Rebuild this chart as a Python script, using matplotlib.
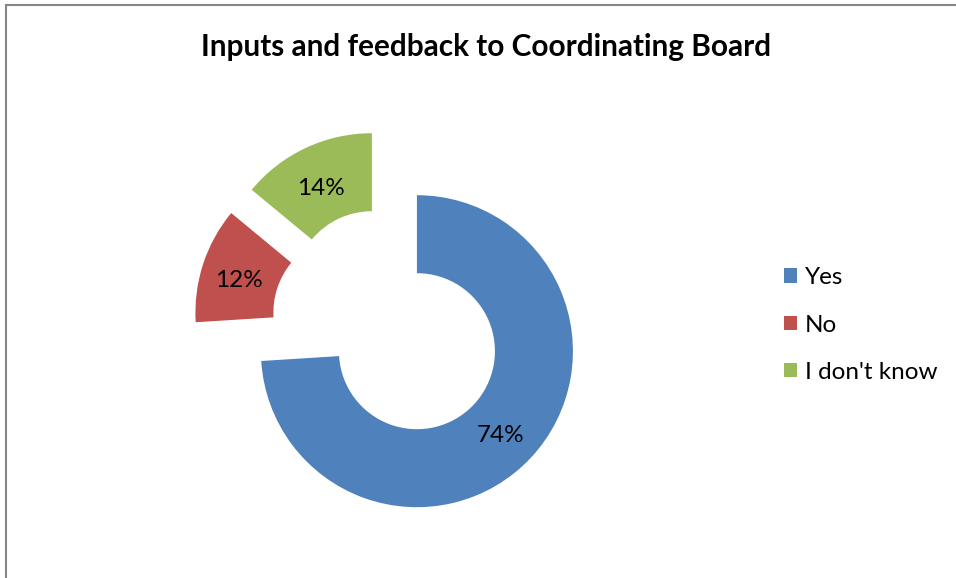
import matplotlib.pyplot as plt
from matplotlib.patches import Rectangle, Patch

labels = ['Yes', 'No', "I don't know"]
shares = [74, 12, 14]
colors = ['#4F81BD', '#C0504D', '#9BBB59']
title = 'Inputs and feedback to Coordinating Board'

plt.rcParams['font.family'] = ['Lato', 'DejaVu Sans']

W, H = 956, 578
fig = plt.figure(figsize=(W / 100, H / 100), dpi=100)

# chart border (only left and top edges are visible in the frame)
fig.patches.append(Rectangle((5.5 / W, -0.1), 1.2, 1 - 5.5 / H + 0.1,
                             transform=fig.transFigure, fill=False,
                             edgecolor='#868686', linewidth=1.5))

# square axes centred on the donut centre, radius 156 px
cx, cy, r, half = 388.5, 324.5, 156, 210
ax = fig.add_axes([(cx - half) / W, (H - cy - half) / H, 2 * half / W, 2 * half / H])
wedges, texts, autotexts = ax.pie(shares, colors=colors, startangle=90, counterclock=False,
                                  explode=[0.25] * 3, radius=1,
                                  wedgeprops=dict(width=0.5, linewidth=0),
                                  autopct='%d%%', pctdistance=0.75,
                                  textprops=dict(fontsize=17.5, color='black'))
# Excel sits the labels slightly lower in the ring
for t in autotexts:
    x, y = t.get_position()
    t.set_position((x - 0.01, y - 0.03))
lim = half / r
ax.set_xlim(-lim, lim)
ax.set_ylim(-lim, lim)
ax.set_aspect('equal')
ax.axis('off')

fig.text(486 / W, 1 - 47 / H, title, ha='center', va='center', fontsize=21.4, fontweight='bold')

handles = [Patch(facecolor=c, edgecolor='none') for c in colors]
fig.legend(handles, labels, loc='center left', bbox_to_anchor=(784 / W, 1 - 325 / H),
           frameon=False, fontsize=17.5, handlelength=0.55, handleheight=0.55,
           handletextpad=0.3, labelspacing=1.08, borderpad=0, borderaxespad=0)

fig.savefig('out.png', dpi=100)
